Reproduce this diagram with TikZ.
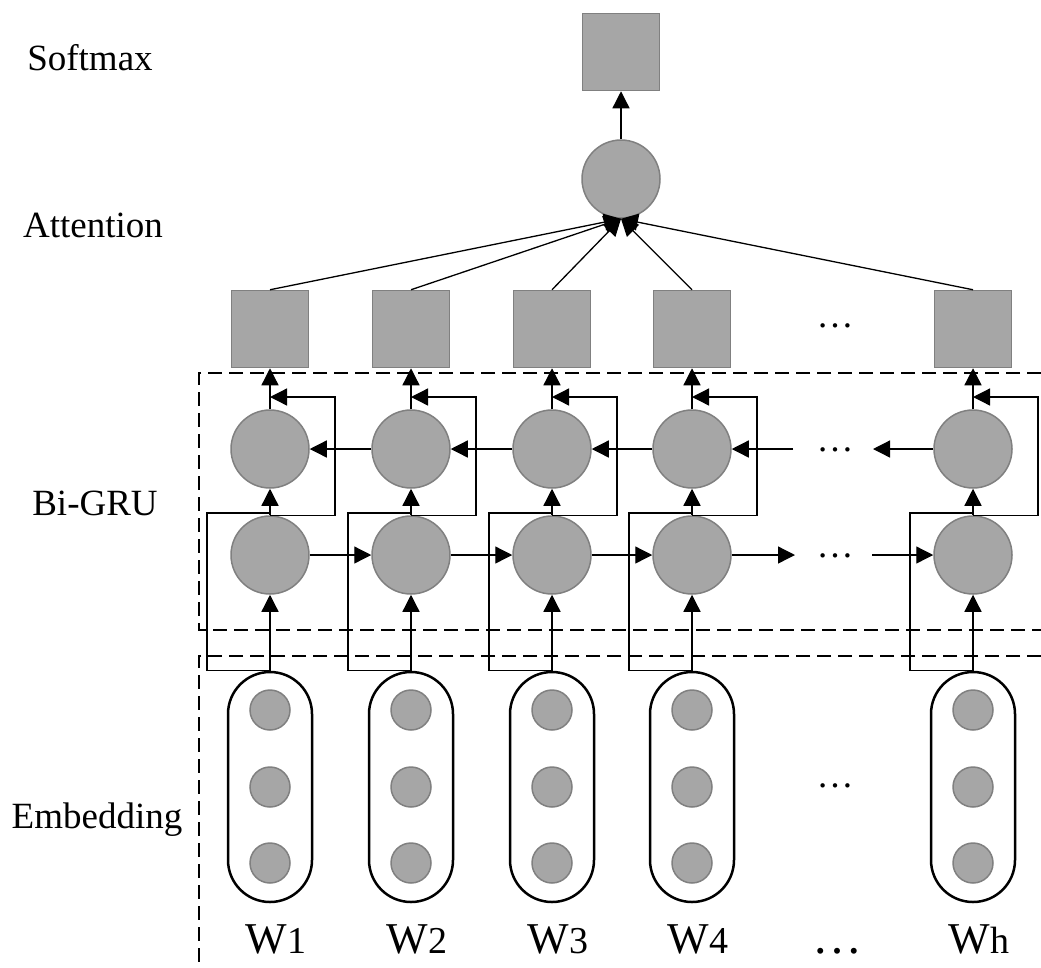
\documentclass[tikz,border=0pt]{standalone}
\usepackage{fontspec}
\setmainfont{Liberation Serif}
\usetikzlibrary{arrows.meta,positioning,calc}
\definecolor{cellgray}{HTML}{A6A6A6}
\definecolor{rimgray}{HTML}{808080}

\begin{document}
\begin{tikzpicture}[x=1pt, y=-1pt,
  every node/.style={font=\fontsize{37}{44}\selectfont},
  cell/.style={circle, fill=cellgray, draw=rimgray, line width=1.5pt, minimum size=78pt, inner sep=0pt},
  outbox/.style={rectangle, fill=cellgray, draw=rimgray, line width=1.5pt, minimum size=77pt, inner sep=0pt},
  unit/.style={circle, fill=cellgray, draw=rimgray, line width=1.5pt, minimum size=40pt, inner sep=0pt},
  pill/.style={rectangle, draw, line width=2.5pt, rounded corners=42pt, minimum width=84pt, minimum height=230pt},
  conn/.style={line width=1.3pt, -{Triangle[length=17pt,width=17pt]}},
  wire/.style={line width=1.3pt},
  frame/.style={line width=1.4pt, dash pattern=on 14pt off 7pt}]
  \useasboundingbox (0,0) rectangle (1041,967);

  % dashed frames round the Bi-GRU and the embedding
  \draw[frame] (1041,373) -| (199,630) -- (1041,630);
  \draw[frame] (1041,656) -| (199,967);

  % layer names
  \node[anchor=base] (lblsoft) at (90,70) {Softmax};
  \node[anchor=base] (lblatt) at (93,237) {Attention};
  \node[anchor=base] (lblgru) at (95,515) {Bi-GRU};
  \node[anchor=base] (lblemb) at (97,828) {Embedding};

  % softmax and attention
  \node[outbox] (soft) at (621,52) {};
  \node[cell] (att) at (621,179) {};
  \draw[conn] (att.north) -- (soft.south);

  % one column per word
  \foreach \i/\x/\w in {1/270/1,2/411/2,3/552/3,4/692/4,5/973/h} {
    \node[outbox] (out\i) at (\x,329) {};
    \node[cell] (bw\i) at (\x,449) {};
    \node[cell] (fw\i) at (\x,555) {};
    \node[pill] (emb\i) at (\x,787) {};
    \foreach \j/\y in {a/710,b/787,c/863}
      \node[unit] (emb\i\j) at (\x,\y) {};
    \node[anchor=base] (word\i) at (\x+6,953) {\fontsize{44}{50}\selectfont W\fontsize{38}{44}\selectfont\w};
    \coordinate (skip\i) at (\x,513);
    \coordinate (back\i) at (\x,397);
    \draw[conn] (emb\i.north) -- (fw\i.south);
    \draw[conn] (fw\i.north) -- (bw\i.south);
    \draw[conn] (bw\i.north) -- (out\i.south);
    \draw[wire] (emb\i.north) -- ++(-63,0) |- (skip\i);
    \draw[conn] (fw\i.north) -- ++(65,0) |- (back\i);
    \draw[conn] (out\i.north) -- (att.south);
  }

  % recurrent links
  \foreach \i/\n in {1/2,2/3,3/4} {
    \draw[conn] (fw\i.east) -- (fw\n.west);
    \draw[conn] (bw\n.west) -- (bw\i.east);
  }
  \coordinate (fwgap) at (795,555);
  \coordinate (fwrest) at (872,555);
  \draw[conn] (fw4.east) -- (fwgap);
  \draw[conn] (fwrest) -- (fw5.west);
  \coordinate (bwgap) at (873,449);
  \coordinate (bwrest) at (793,449);
  \draw[conn] (bw5.west) -- (bwgap);
  \draw[conn] (bwrest) -- (bw4.east);

  % ellipses
  \node[anchor=base] (outdots) at (835,327) {\dots};
  \node[anchor=base] (bwdots) at (835,451) {\dots};
  \node[anchor=base] (fwdots) at (835,557) {\dots};
  \node[anchor=base] (embdots) at (835,787) {\dots};
  \node[anchor=base, font=\fontsize{50}{56}\selectfont] (worddots) at (837,953) {\dots};
\end{tikzpicture}
\end{document}
